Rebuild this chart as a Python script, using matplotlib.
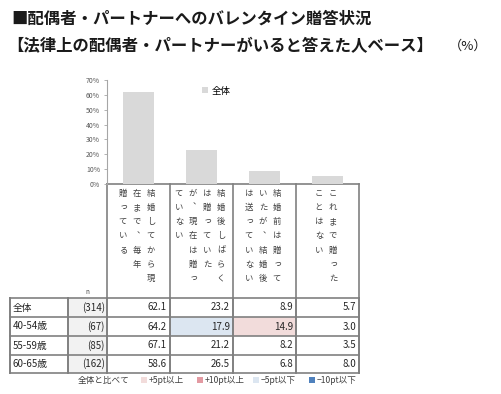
import matplotlib.pyplot as plt
from matplotlib.patches import Rectangle

plt.rcParams['font.family'] = ['Noto Sans CJK JP', 'DejaVu Sans']

# data
title1 = "■配偶者・パートナーへのバレンタイン贈答状況"
title2 = "【法律上の配偶者・パートナーがいると答えた人ベース】"
unit = "（%）"
answers = [
    ["結婚してから現", "在まで、毎年", "贈っている"],
    ["結婚後しばらく", "は贈っていた", "が、現在は贈っ", "ていない"],
    ["結婚前は贈って", "いたが、結婚後", "は送っていない"],
    ["これまで贈った", "ことはない"],
]
groups = ["全体", "40-54歳", "55-59歳", "60-65歳"]
n_base = [314, 67, 85, 162]
values = [
    [62.1, 23.2, 8.9, 5.7],
    [64.2, 17.9, 14.9, 3.0],
    [67.1, 21.2, 8.2, 3.5],
    [58.6, 26.5, 6.8, 8.0],
]
yticks = [0, 10, 20, 30, 40, 50, 60, 70]
legend_items = ["+5pt以上", "+10pt以上", "−5pt以下", "−10pt以下"]
legend_colors = ["#f2dcdb", "#e39aa2", "#dce6f1", "#4f81bd"]

W, H = 501, 394
fig = plt.figure(figsize=(W / 100, H / 100), dpi=100)

# overlay axes in pixel coordinates
ov = fig.add_axes([0, 0, 1, 1])
ov.set_xlim(0, W)
ov.set_ylim(H, 0)
ov.axis("off")

# bar chart
bx0, bx1, by0, by1 = 107, 359, 80, 184
ax = fig.add_axes([bx0 / W, (H - by1) / H, (bx1 - bx0) / W, (by1 - by0) / H])
ax.patch.set_alpha(0)
ax.bar(range(len(answers)), values[0], width=0.5, color="#d9d9d9", label="全体")
ax.set_xlim(-0.5, len(answers) - 0.5)
ax.set_ylim(0, 70)
ax.set_yticks(yticks)
ax.set_yticklabels([f"{t}%" for t in yticks], fontsize=5, color="#595959")
ax.set_xticks([])
for s in ["top", "right", "bottom"]:
    ax.spines[s].set_visible(False)
ax.spines["left"].set_color("#a6a6a6")
ax.spines["left"].set_linewidth(0.8)
ax.tick_params(axis="y", length=2, width=0.6, color="#a6a6a6", pad=3)
ax.legend(loc="upper left", bbox_to_anchor=(0.36, 0.98), frameon=False,
          fontsize=6.8, handlelength=0.6, handleheight=0.6, handletextpad=0.4,
          borderpad=0)

# titles
ov.text(11, 19, title1, fontsize=11.8, fontweight="bold", va="center", ha="left", color="#1a1a1a")
ov.text(7, 46, title2, fontsize=11.8, fontweight="bold", va="center", ha="left", color="#1a1a1a")
ov.text(449, 46, unit, fontsize=9.5, va="center", ha="left", color="#1a1a1a")

# table geometry
col_x = [10, 68, 107, 170, 233, 296, 359]
row_y = [298, 317, 336, 355, 373]
line_c = "#808080"

# header vertical text
for j, lines in enumerate(answers):
    cx = (col_x[2 + j] + col_x[3 + j]) / 2 - 1.5
    ncol = len(lines)
    for k, line in enumerate(lines):
        x = cx + (ncol - 1) / 2 * 14 - k * 14
        for m, ch in enumerate(line):
            dx, dy = 0, 0
            if ch == "、":
                dx, dy = 4, -5
            elif ch in "っ":
                dx, dy = 1, -1
            ov.text(x + dx, 193 + m * 14.3 + dy, ch, fontsize=6, ha="center",
                    va="center", color="#404040")

# header borders
ov.plot([107, 359], [184, 184], color=line_c, lw=1.2)
for x in col_x[2:]:
    ov.plot([x, x], [184, row_y[0]], color=line_c, lw=1.2)
ov.text(87, 292, "n", fontsize=4.5, ha="center", va="center", color="#404040")

# cell fills
for i in range(len(groups)):
    ov.add_patch(Rectangle((col_x[1], row_y[i]), col_x[2] - col_x[1],
                           row_y[i + 1] - row_y[i], color="#f2f2f2", lw=0))
    for j in range(len(answers)):
        diff = round(values[i][j] - values[0][j], 1)
        c = None
        if diff >= 10:
            c = legend_colors[1]
        elif diff > 5:
            c = legend_colors[0]
        elif diff <= -10:
            c = legend_colors[3]
        elif diff < -5:
            c = legend_colors[2]
        if c and i > 0:
            ov.add_patch(Rectangle((col_x[2 + j], row_y[i]), col_x[3 + j] - col_x[2 + j],
                                   row_y[i + 1] - row_y[i], color=c, lw=0))

# cell text
for i, g in enumerate(groups):
    yc = (row_y[i] + row_y[i + 1]) / 2
    ov.text(col_x[0] + 3, yc, g, fontsize=7, ha="left", va="center", color="#262626")
    ov.text(col_x[2] - 2, yc, f"({n_base[i]})", fontsize=7, ha="right", va="center", color="#262626")
    for j in range(len(answers)):
        ov.text(col_x[3 + j] - 3, yc, f"{values[i][j]:.1f}", fontsize=7,
                ha="right", va="center", color="#262626")

# table borders
for y in row_y:
    ov.plot([col_x[0], col_x[-1]], [y, y], color=line_c, lw=1.2)
for x in col_x:
    ov.plot([x, x], [row_y[0], row_y[-1]], color=line_c, lw=1.4)

# bottom legend
ov.text(78, 380, "全体と比べて", fontsize=6.2, ha="left", va="center", color="#404040")
lx = [141, 197, 253, 309]
for x, lab, c in zip(lx, legend_items, legend_colors):
    ov.add_patch(Rectangle((x, 377), 6, 6, color=c, lw=0))
    ov.text(x + 8, 380, lab, fontsize=6.2, ha="left", va="center", color="#404040")

fig.savefig("out.png", dpi=100)
